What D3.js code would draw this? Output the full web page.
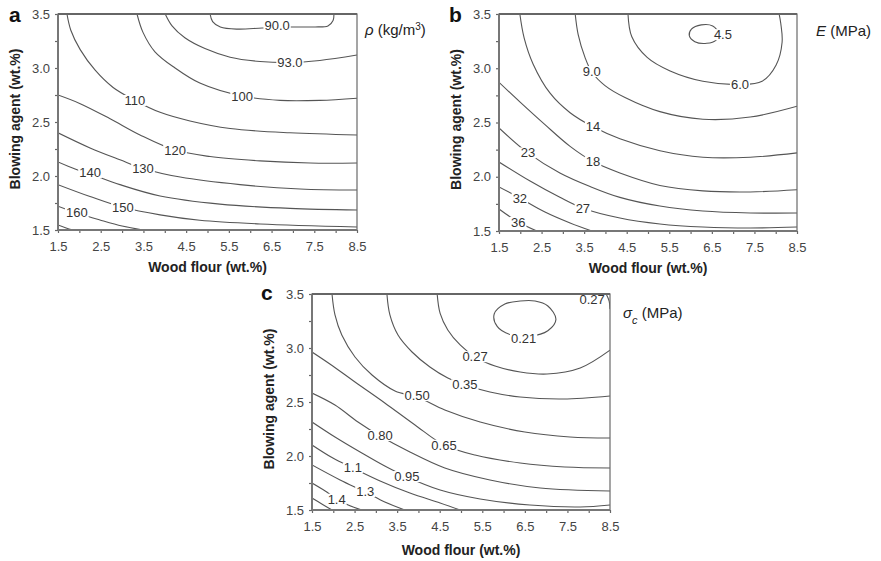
<!DOCTYPE html>
<html><head><meta charset="utf-8">
<script src="https://cdn.jsdelivr.net/npm/d3@7"></script>
<style>
body{margin:0;background:#fff}
svg{display:block}
text{font-family:"Liberation Sans",Arial,sans-serif}
</style>
</head><body>
<svg id="chart" width="881" height="561"></svg>
<script>
// ---------- data ----------
const xTickValues = [1.5,2.5,3.5,4.5,5.5,6.5,7.5,8.5];
const xMinorValues = [2.0,3.0,4.0,5.0,6.0,7.0,8.0];
const yTickValues = [1.5,2.0,2.5,3.0,3.5];
const yMinorValues = [1.75,2.25,2.75,3.25];
const xTitle = "Wood flour (wt.%)";
const yTitle = "Blowing agent (wt.%)";

// panel a: density rho (kg/m3)
const contoursA = [
 {label:"90.0", at:[6.63,3.39], pts:[[5.06,3.5],[5.12,3.43],[5.30,3.38],[5.70,3.36],[6.28,3.37],[6.93,3.38],[7.52,3.38],[7.82,3.39],[7.94,3.44],[7.96,3.5]]},
 {label:"93.0", at:[6.93,3.05], pts:[[4.01,3.5],[4.17,3.39],[4.47,3.28],[4.94,3.18],[5.53,3.10],[6.23,3.06],[6.93,3.05],[7.63,3.07],[8.5,3.12]]},
 {label:"100", at:[5.81,2.74], pts:[[3.35,3.5],[3.49,3.33],[3.77,3.15],[4.24,3.0],[4.82,2.86],[5.81,2.74],[6.70,2.70],[7.63,2.70],[8.5,2.72]]},
 {label:"110", at:[3.30,2.70], pts:[[1.71,3.5],[1.80,3.35],[2.02,3.17],[2.37,2.98],[2.79,2.82],[3.30,2.70],[3.89,2.59],[4.59,2.51],[5.53,2.44],[6.93,2.40],[8.5,2.38]]},
 {label:"120", at:[4.24,2.24], pts:[[1.5,2.75],[2.02,2.67],[2.72,2.53],[3.42,2.38],[4.24,2.24],[5.06,2.18],[6.23,2.14],[7.40,2.12],[8.5,2.12]]},
 {label:"130", at:[3.49,2.07], pts:[[1.5,2.40],[2.25,2.26],[2.95,2.15],[3.49,2.07],[4.36,1.99],[5.76,1.92],[7.17,1.88],[8.5,1.87]]},
 {label:"140", at:[2.25,2.03], pts:[[1.5,2.13],[1.90,2.065],[2.25,2.02],[2.95,1.92],[3.89,1.815],[5.29,1.74],[6.93,1.70],[8.5,1.685]]},
 {label:"150", at:[3.02,1.71], pts:[[1.5,1.92],[2.25,1.81],[3.02,1.71],[3.89,1.64],[4.82,1.59],[6.23,1.556],[8.5,1.528]]},
 {label:"160", at:[1.94,1.66], pts:[[1.5,1.72],[1.94,1.657],[2.48,1.593],[3.0,1.537],[3.49,1.5]]},
 {label:null, at:null, pts:[[1.5,1.546],[1.69,1.519],[1.85,1.5]]}
];

// panel b: modulus E (MPa)
const contoursB = [
 {label:"4.5", at:[6.76,3.31], closed:true, pts:[[6.25,3.40],[6.02,3.36],[5.97,3.30],[6.10,3.245],[6.38,3.23],[6.60,3.26],[6.66,3.32],[6.52,3.39]]},
 {label:"6.0", at:[7.16,2.85], pts:[[4.53,3.5],[4.62,3.29],[4.98,3.10],[5.52,2.975],[6.29,2.88],[7.16,2.85],[7.68,2.88],[8.01,3.03],[8.15,3.24],[8.12,3.41],[8.08,3.5]]},
 {label:"9.0", at:[3.68,2.97], pts:[[3.29,3.5],[3.36,3.31],[3.52,3.10],[3.68,2.965],[3.99,2.84],[4.46,2.73],[5.28,2.60],[6.29,2.53],[7.40,2.55],[8.5,2.65]]},
 {label:"14", at:[3.71,2.46], pts:[[1.99,3.5],[2.09,3.28],[2.30,3.04],[2.70,2.77],[3.17,2.59],[3.71,2.46],[4.34,2.35],[5.28,2.24],[6.29,2.18],[7.40,2.18],[8.5,2.22]]},
 {label:"18", at:[3.71,2.14], pts:[[1.5,2.87],[1.99,2.69],[2.58,2.48],[3.17,2.28],[3.71,2.14],[4.34,2.035],[5.28,1.92],[6.29,1.87],[7.40,1.86],[8.5,1.88]]},
 {label:"23", at:[2.18,2.22], pts:[[1.5,2.45],[2.18,2.22],[2.93,2.035],[3.64,1.91],[4.34,1.81],[5.28,1.73],[6.29,1.684],[7.40,1.666],[8.5,1.666]]},
 {label:"27", at:[3.47,1.71], pts:[[1.5,2.136],[2.23,1.96],[2.93,1.81],[3.47,1.71],[4.34,1.62],[5.28,1.565],[6.29,1.537],[7.40,1.528],[8.5,1.537]]},
 {label:"32", at:[1.99,1.80], pts:[[1.5,1.906],[1.99,1.804],[2.58,1.675],[3.17,1.574],[3.68,1.5]]},
 {label:"36", at:[1.95,1.58], pts:[[1.5,1.703],[1.95,1.583],[2.39,1.5]]}
];

// panel c: compressive strength sigma_c (MPa)
const contoursC = [
 {label:"0.21", at:[6.47,3.09], closed:true, pts:[[6.39,3.435],[6.03,3.407],[5.78,3.315],[5.85,3.20],[6.15,3.125],[6.62,3.11],[7.04,3.16],[7.23,3.265],[7.04,3.389],[6.74,3.435]]},
 {label:"0.27", at:[5.33,2.92], pts:[[4.44,3.5],[4.51,3.32],[4.69,3.167],[4.98,3.028],[5.33,2.917],[5.80,2.833],[6.39,2.778],[7.02,2.759],[7.80,2.815],[8.5,2.98]]},
 {label:"0.27", at:[8.08,3.45], detached:true, pts:[[8.41,3.5],[8.48,3.435],[8.5,3.36]]},
 {label:"0.35", at:[5.09,2.66], pts:[[3.26,3.5],[3.33,3.306],[3.52,3.12],[3.85,2.963],[4.27,2.824],[4.69,2.722],[5.09,2.657],[5.68,2.593],[6.39,2.546],[7.40,2.528],[8.5,2.556]]},
 {label:"0.50", at:[3.97,2.56], pts:[[1.97,3.5],[2.04,3.306],[2.20,3.12],[2.51,2.917],[2.91,2.75],[3.45,2.602],[3.97,2.546],[4.62,2.426],[5.45,2.315],[6.50,2.222],[7.56,2.176],[8.5,2.167]]},
 {label:"0.65", at:[4.60,2.10], pts:[[1.5,2.963],[1.92,2.852],[2.51,2.685],[3.21,2.491],[3.92,2.287],[4.60,2.102],[5.33,2.009],[6.39,1.935],[7.44,1.898],[8.5,1.889]]},
 {label:"0.80", at:[3.10,2.19], pts:[[1.5,2.583],[2.04,2.472],[2.58,2.315],[3.10,2.185],[3.80,2.037],[4.62,1.889],[5.68,1.778],[6.86,1.704],[8.5,1.676]]},
 {label:"0.95", at:[3.73,1.81], pts:[[1.5,2.315],[2.04,2.176],[2.63,2.037],[3.21,1.907],[3.73,1.806],[4.51,1.685],[5.45,1.602],[6.62,1.546],[7.80,1.528],[8.5,1.546]]},
 {label:"1.1", at:[2.46,1.89], pts:[[1.5,2.102],[1.99,1.981],[2.46,1.889],[3.10,1.769],[3.80,1.657],[4.51,1.565],[4.98,1.5]]},
 {label:"1.3", at:[2.75,1.67], pts:[[1.5,1.917],[2.16,1.778],[2.75,1.667],[3.21,1.574],[3.68,1.5]]},
 {label:"1.4", at:[2.08,1.60], pts:[[1.5,1.75],[1.81,1.676],[2.04,1.611],[2.35,1.546],[2.67,1.5]]},
 {label:null, at:null, pts:[[1.5,1.611],[1.73,1.556],[1.97,1.5]]}
];

// ---------- layout ----------
const panels = [
 {data:contoursA, left:58, right:357, top:14, bottom:230, letter:"a", lx:9, ly:22, ytx:20, xtY:272,
  legend:[{t:"\u03C1",i:true},{t:" (kg/m"},{t:"3",sup:true},{t:")"}], legX:365, legY:35},
 {data:contoursB, left:499, right:797, top:14, bottom:231, letter:"b", lx:449, ly:22, ytx:461, xtY:273,
  legend:[{t:"E",i:true},{t:" (MPa)"}], legX:816, legY:36},
 {data:contoursC, left:312, right:610, top:294, bottom:510, letter:"c", lx:261, ly:300, ytx:274, xtY:555,
  legend:[{t:"\u03C3",i:true},{t:"c",i:true,sub:true},{t:" (MPa)"}], legX:623, legY:318}
];

const svg = d3.select("#chart");
const lineCol = "#555";

panels.forEach((p, pi) => {
  const x = d3.scaleLinear().domain([1.5, 8.5]).range([p.left, p.right]);
  const y = d3.scaleLinear().domain([1.5, 3.5]).range([p.bottom, p.top]);
  const g = svg.append("g");

  const clipId = "clip" + pi;
  svg.append("clipPath").attr("id", clipId).append("rect")
    .attr("x", p.left).attr("y", p.top).attr("width", p.right - p.left).attr("height", p.bottom - p.top);

  const plot = g.append("g").attr("clip-path", `url(#${clipId})`);
  const open = d3.line().x(d => x(d[0])).y(d => y(d[1])).curve(d3.curveCatmullRom.alpha(0.5));
  const closed = d3.line().x(d => x(d[0])).y(d => y(d[1])).curve(d3.curveCatmullRomClosed.alpha(0.5));

  plot.selectAll("path.ct").data(p.data).join("path")
    .attr("class", "ct")
    .attr("d", d => (d.closed ? closed : open)(d.pts))
    .attr("fill", "none").attr("stroke", lineCol).attr("stroke-width", 1.1);

  // contour labels with white backing (gap in line)
  const lab = g.append("g");
  p.data.filter(d => d.label).forEach(d => {
    const t = lab.append("text")
      .attr("x", x(d.at[0])).attr("y", y(d.at[1]))
      .attr("text-anchor", "middle").attr("dy", "0.35em")
      .attr("font-size", 13).attr("fill", "#333").text(d.label);
    const bb = t.node().getBBox();
    if (!d.detached) {
      lab.insert("rect", () => t.node())
        .attr("x", bb.x - 1).attr("y", bb.y + 2).attr("width", bb.width + 2).attr("height", bb.height - 4)
        .attr("fill", "#fff");
    }
  });

  // axes
  g.append("g").attr("transform", `translate(0,${p.bottom})`)
    .call(d3.axisBottom(x).tickValues(xTickValues).tickFormat(d3.format(".1f")).tickSize(3).tickSizeOuter(0).tickPadding(9));
  g.append("g").attr("transform", `translate(0,${p.bottom})`)
    .call(d3.axisBottom(x).tickValues(xMinorValues).tickFormat("").tickSize(3).tickSizeOuter(0));
  g.append("g").attr("transform", `translate(${p.left},0)`)
    .call(d3.axisLeft(y).tickValues(yTickValues).tickFormat(d3.format(".1f")).tickSize(3).tickSizeOuter(0).tickPadding(5));
  g.append("g").attr("transform", `translate(${p.left},0)`)
    .call(d3.axisLeft(y).tickValues(yMinorValues).tickFormat("").tickSize(3).tickSizeOuter(0));
  g.selectAll(".domain").attr("stroke", "none");
  g.selectAll(".tick line").attr("stroke", "#666").attr("stroke-width", 1.2);
  g.selectAll(".tick text").attr("font-size", 13).attr("fill", "#444")
    .attr("font-family", '"Liberation Sans",Arial,sans-serif');

  // frame
  g.append("rect").attr("x", p.left).attr("y", p.top)
    .attr("width", p.right - p.left).attr("height", p.bottom - p.top)
    .attr("fill", "none").attr("stroke", "#6a6a6a").attr("stroke-width", 1.2);
  g.append("line").attr("x1", p.left).attr("x2", p.right).attr("y1", p.bottom).attr("y2", p.bottom)
    .attr("stroke", "#777").attr("stroke-width", 2);
  g.append("line").attr("x1", p.left).attr("x2", p.left).attr("y1", p.top).attr("y2", p.bottom)
    .attr("stroke", "#777").attr("stroke-width", 2);
  g.append("line").attr("x1", p.left).attr("x2", p.right).attr("y1", p.top).attr("y2", p.top)
    .attr("stroke", "#666").attr("stroke-width", 1.8);

  // titles
  g.append("text").attr("x", (p.left + p.right) / 2).attr("y", p.xtY)
    .attr("text-anchor", "middle").attr("font-size", 14).attr("font-weight", "bold").attr("fill", "#222")
    .text(xTitle);
  g.append("text").attr("transform", `translate(${p.ytx},${(p.top + p.bottom) / 2 - 3}) rotate(-90)`)
    .attr("text-anchor", "middle").attr("font-size", 14).attr("font-weight", "bold").attr("fill", "#222")
    .text(yTitle);
  g.append("text").attr("x", p.lx).attr("y", p.ly)
    .attr("font-size", 21).attr("font-weight", "bold").attr("fill", "#111").text(p.letter);

  // legend / quantity label
  const lt = g.append("text").attr("x", p.legX).attr("y", p.legY).attr("font-size", 15).attr("fill", "#222");
  p.legend.forEach(s => {
    const ts = lt.append("tspan").text(s.t);
    if (s.i) ts.attr("font-style", "italic");
    if (s.sup) ts.attr("font-size", 10).attr("baseline-shift", "super");
    if (s.sub) ts.attr("font-size", 11).attr("baseline-shift", "sub");
  });
});
</script>
</body></html>
